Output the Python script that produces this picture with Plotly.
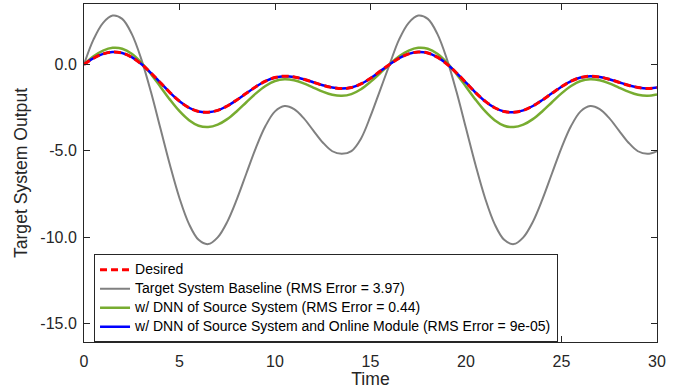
import plotly.graph_objects as go

time = [0.0, 0.5, 1.0, 1.5, 2.0, 2.5, 3.0, 3.5, 4.0, 4.5, 5.0, 5.5, 6.0, 6.5, 7.0, 7.5,
        8.0, 8.5, 9.0, 9.5, 10.0, 10.5, 11.0, 11.5, 12.0, 12.5, 13.0, 13.5, 14.0, 14.5, 15.0, 15.5,
        16.0, 16.5, 17.0, 17.5, 18.0, 18.5, 19.0, 19.5, 20.0, 20.5, 21.0, 21.5, 22.0, 22.5, 23.0, 23.5,
        24.0, 24.5, 25.0, 25.5, 26.0, 26.5, 27.0, 27.5, 28.0, 28.5, 29.0, 29.5, 30.0]

desired = [0.00, 0.36, 0.61, 0.72, 0.66, 0.42, 0.02, -0.49, -1.06, -1.63, -2.13, -2.51, -2.73, -2.77, -2.66, -2.41,
           -2.06, -1.67, -1.29, -0.97, -0.76, -0.68, -0.73, -0.86, -1.03, -1.21, -1.34, -1.40, -1.34, -1.13, -0.80, -0.40,
           0.00, 0.36, 0.61, 0.72, 0.66, 0.42, 0.02, -0.49, -1.06, -1.63, -2.13, -2.51, -2.73, -2.77, -2.66, -2.41,
           -2.06, -1.67, -1.29, -0.97, -0.76, -0.68, -0.73, -0.86, -1.03, -1.21, -1.34, -1.40, -1.34]

baseline = [0.00, 1.45, 2.41, 2.83, 2.64, 1.77, 0.31, -1.57, -3.70, -5.83, -7.75, -9.25, -10.16, -10.41, -10.02, -9.12,
            -7.82, -6.32, -4.83, -3.57, -2.72, -2.41, -2.59, -3.11, -3.82, -4.52, -5.03, -5.18, -5.02, -4.30, -3.00, -1.50,
            0.00, 1.45, 2.41, 2.83, 2.64, 1.77, 0.31, -1.57, -3.70, -5.83, -7.75, -9.25, -10.16, -10.41, -10.02, -9.12,
            -7.82, -6.32, -4.83, -3.57, -2.72, -2.41, -2.59, -3.11, -3.82, -4.52, -5.03, -5.18, -5.02]

dnn_source = [0.00, 0.47, 0.80, 0.96, 0.91, 0.62, 0.11, -0.55, -1.29, -2.04, -2.71, -3.23, -3.55, -3.63, -3.49, -3.17,
              -2.71, -2.19, -1.68, -1.25, -0.96, -0.86, -0.92, -1.10, -1.34, -1.58, -1.76, -1.82, -1.72, -1.44, -1.01, -0.51,
              0.00, 0.47, 0.80, 0.96, 0.91, 0.62, 0.11, -0.55, -1.29, -2.04, -2.71, -3.23, -3.55, -3.63, -3.49, -3.17,
              -2.71, -2.19, -1.68, -1.25, -0.96, -0.86, -0.92, -1.10, -1.34, -1.58, -1.76, -1.82, -1.74]

dnn_online = list(desired)

names = ["Desired",
         "Target System Baseline (RMS Error = 3.97)",
         "w/ DNN of Source System (RMS Error = 0.44)",
         "w/ DNN of Source System and Online Module (RMS Error = 9e-05)"]

x_tickvals = [0, 5, 10, 15, 20, 25, 30]
x_ticktext = ["0", "5", "10", "15", "20", "25", "30"]
y_tickvals = [0, -5, -10, -15]
y_ticktext = ["0.0", "-5.0", "-10.0", "-15.0"]

FONT = "Liberation Sans, Arial, sans-serif"
AX = "#262626"


def leg(s):
    return '<span style="font-size:14px">' + s + '</span>'


fig = go.Figure()
fig.add_trace(go.Scatter(x=time, y=baseline, mode="lines", name=leg(names[1]), legendrank=2,
                         line=dict(color="rgb(128,128,128)", width=2, shape="spline")))
fig.add_trace(go.Scatter(x=time, y=dnn_source, mode="lines", name=leg(names[2]), legendrank=3,
                         line=dict(color="rgb(119,172,48)", width=2.5, shape="spline")))
fig.add_trace(go.Scatter(x=time, y=dnn_online, mode="lines", name=leg(names[3]), legendrank=4,
                         line=dict(color="rgb(0,0,255)", width=2.5, shape="spline")))
fig.add_trace(go.Scatter(x=time, y=desired, mode="lines", name=leg(names[0]), legendrank=1,
                         line=dict(color="rgb(255,0,0)", width=3, dash="7px,4px", shape="spline")))

fig.update_layout(
    width=680, height=389,
    margin=dict(l=84, r=23, t=4, b=47),
    paper_bgcolor="white", plot_bgcolor="white",
    font=dict(family=FONT, color=AX, size=16),
    showlegend=True,
    legend=dict(x=0.0175, y=0.2595, xanchor="left", yanchor="top",
                bgcolor="white", bordercolor=AX, borderwidth=1,
                font=dict(family=FONT, size=10, color="black"),
                tracegroupgap=0, itemwidth=30),
    xaxis=dict(range=[0, 30], tickvals=x_tickvals, ticktext=x_ticktext,
               ticks="inside", ticklen=6, tickwidth=1, tickcolor=AX,
               showline=True, linecolor=AX, linewidth=1, mirror="ticks",
               showgrid=False, zeroline=False, automargin=False,
               ticklabelstandoff=5,
               tickfont=dict(size=16, color=AX),
               title=dict(text="Time", font=dict(size=17.6, color=AX), standoff=10)),
    yaxis=dict(range=[-16.08, 3.5], tickvals=y_tickvals, ticktext=y_ticktext,
               ticks="inside", ticklen=6, tickwidth=1, tickcolor=AX,
               showline=True, linecolor=AX, linewidth=1, mirror="ticks",
               showgrid=False, zeroline=False, automargin=False,
               ticklabelstandoff=3,
               tickfont=dict(size=16, color=AX),
               title=dict(text="Target System Output", font=dict(size=17.6, color=AX), standoff=8)),
)

fig.write_html("out.html", config={"displayModeBar": False},
               post_script="document.body.style.margin='0';")
